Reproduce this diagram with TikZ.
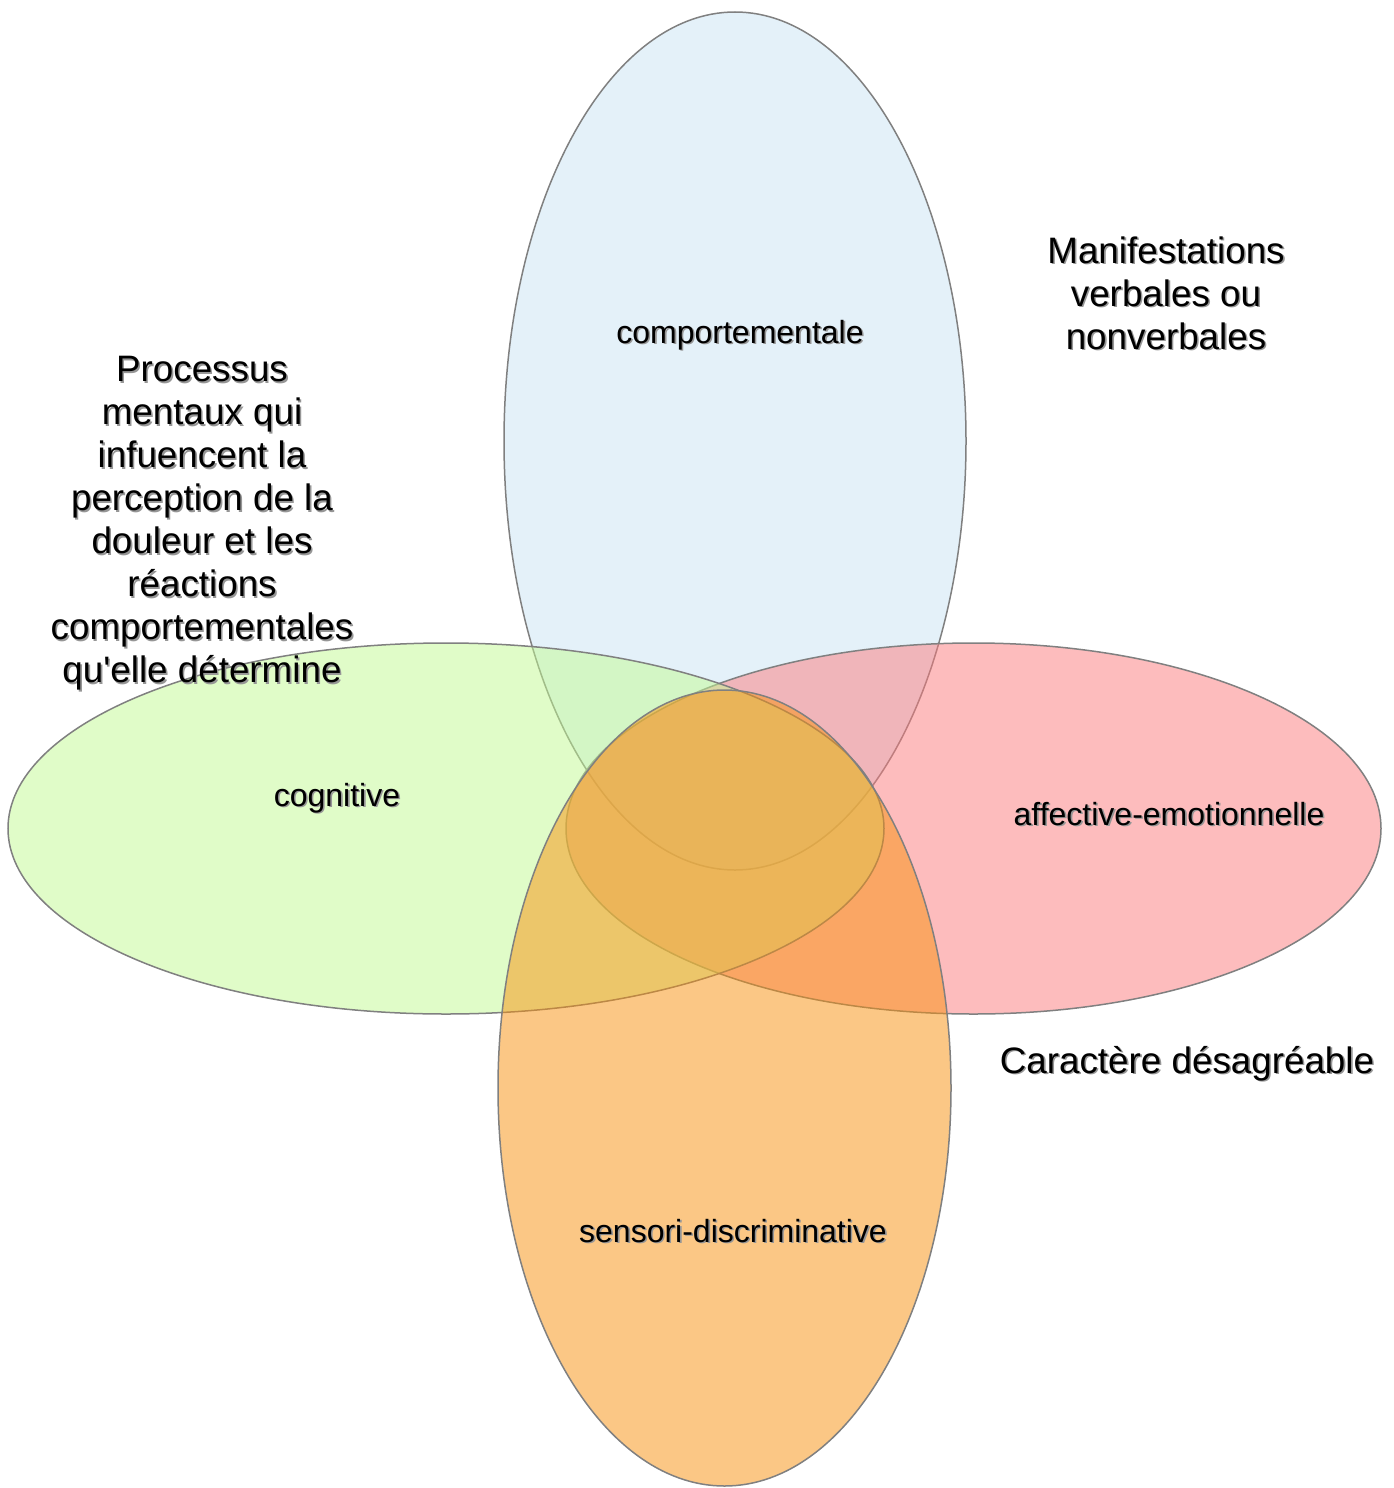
\documentclass[tikz,border=0pt]{standalone}
\usepackage{fontspec}
\setmainfont{Liberation Sans}
\definecolor{cblue}{RGB}{203,229,245}
\definecolor{cgreen}{RGB}{195,251,147}
\definecolor{cred}{RGB}{253,123,125}
\definecolor{corange}{RGB}{249,145,13}
\definecolor{cline}{RGB}{128,128,128}
\definecolor{shadowc}{RGB}{150,150,150}
\newcommand\shd[1]{\makebox[0pt][l]{\kern1.6pt\raisebox{-1.6pt}{\textcolor{shadowc}{#1}}}#1}
\tikzset{
  blob/.style={draw=cline, line width=1.5pt, fill opacity=0.5},
  lab/.style={inner sep=0pt, anchor=base, font=\fontsize{32}{38}\selectfont},
  note/.style={inner sep=0pt, align=center, font=\fontsize{36.8}{43}\selectfont},
}
\begin{document}
\begin{tikzpicture}[x=1pt,y=-1pt]
\useasboundingbox (0,0) rectangle (1394,1488);
\fill[white] (0,0) rectangle (1394,1488);
% ellipses
\draw[blob, fill=cblue]   (735,441)   ellipse [x radius=231pt, y radius=429pt];
\draw[blob, fill=cred]    (973.5,828.5) ellipse [x radius=407.5pt, y radius=185.5pt];
\draw[blob, fill=cgreen]  (446,828.5) ellipse [x radius=438pt, y radius=185.5pt];
\draw[blob, fill=corange] (724.5,1088) ellipse [x radius=226.5pt, y radius=398pt];
% labels
\node[lab] (comp) at (740,343) {\shd{comportementale}};
\node[lab] (cogn) at (337,806) {\shd{cognitive}};
\node[lab] (affe) at (1169,825) {\shd{affective-emotionnelle}};
\node[lab] (sens) at (733,1242) {\shd{sensori-discriminative}};
% notes
\node[note, anchor=base] (cara) at (1187,1073) {\shd{Caractère désagréable}};
\node[note] (mani) at (1166,294) {\shd{Manifestations}\\\shd{verbales ou}\\\shd{nonverbales}};
\node[note] (proc) at (202,524) {\shd{Processus}\\\shd{mentaux qui}\\\shd{infuencent la}\\\shd{perception de la}\\\shd{douleur et les}\\\shd{réactions}\\\shd{comportementales}\\\shd{qu\textquotesingle elle détermine}};
\end{tikzpicture}
\end{document}
